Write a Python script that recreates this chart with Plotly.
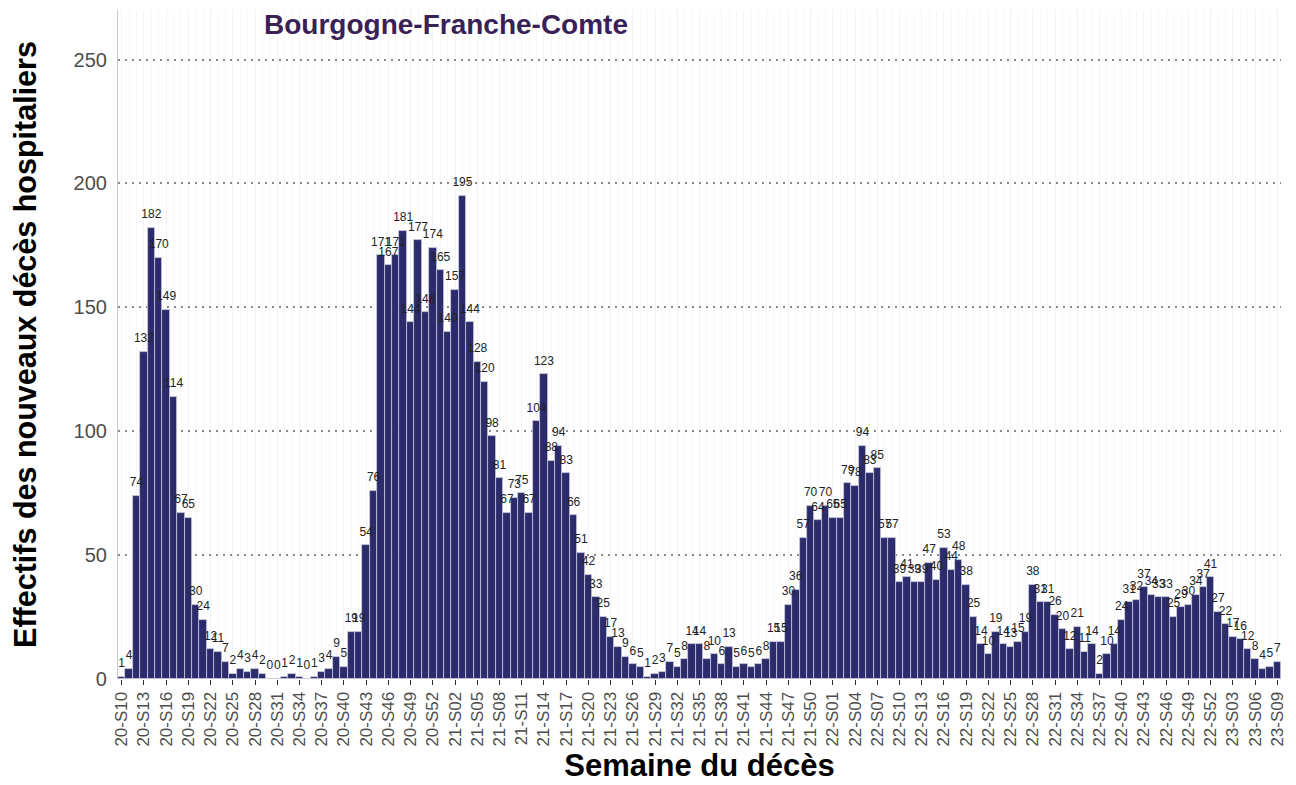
import plotly.graph_objects as go

# Weekly hospital deaths, Bourgogne-Franche-Comte
deaths_2020 = [1, 4, 74, 132, 182, 170, 149, 114, 67, 65,
               30, 24, 12, 11, 7, 2, 4, 3, 4, 2,
               0, 0, 1, 2, 1, 0, 1, 3, 4, 9,
               5, 19, 19, 54, 76, 171, 167, 171, 181, 144,
               177, 148, 174, 165]          # S10..S53
deaths_2021 = [140, 157, 195, 144, 128, 120, 98, 81, 67,
               73, 75, 67, 104, 123, 88, 94, 83, 66, 51,
               42, 33, 25, 17, 13, 9, 6, 5, 1, 2,
               3, 7, 5, 8, 14, 14, 8, 10, 6, 13,
               5, 6, 5, 6, 8, 15, 15, 30, 36, 57,
               70, 64, 70]                  # S01..S52
deaths_2022 = [65, 65, 79, 78, 94, 83, 85, 57, 57,
               39, 41, 39, 39, 47, 40, 53, 44, 48, 38,
               25, 14, 10, 19, 14, 13, 15, 19, 38, 31,
               31, 26, 20, 12, 21, 11, 14, 2, 10, 14,
               24, 31, 32, 37, 34, 33, 33, 25, 29, 30,
               34, 37, 41]                  # S01..S52
deaths_2023 = [27, 22, 17, 16, 12, 8, 4, 5, 7]  # S01..S09

first_week = {"20": 10, "21": 1, "22": 1, "23": 1}
series = [("20", deaths_2020), ("21", deaths_2021), ("22", deaths_2022), ("23", deaths_2023)]

weeks = []
values = []
for yy, vals in series:
    for i, v in enumerate(vals):
        weeks.append(f"{yy}-S{first_week[yy] + i:02d}")
        values.append(v)

idx = list(range(len(weeks)))
tick_idx = idx[::3]
tick_text = [weeks[i] for i in tick_idx]

FONT = "Liberation Sans, Arial, Helvetica, sans-serif"

fig = go.Figure()
fig.add_trace(go.Bar(
    x=idx, y=values,
    marker=dict(color="#2c2c6c", line=dict(color="#c9c9dc", width=0.8)),
    width=1.0,
    hoverinfo="x+y",
))
fig.add_trace(go.Scatter(
    x=idx, y=values,
    mode="markers+text",
    marker=dict(size=9, opacity=0),
    text=[str(v) for v in values],
    textposition="top center",
    textfont=dict(size=12, color="#222222", family=FONT),
    cliponaxis=False,
    hoverinfo="skip",
))

fig.update_layout(
    width=1296, height=785,
    margin=dict(l=110, r=23, t=2, b=114),
    plot_bgcolor="white", paper_bgcolor="white",
    bargap=0,
    showlegend=False,
    font=dict(family=FONT, color="#4d4d4d"),
    annotations=[dict(
        text="<b>Bourgogne-Franche-Comte</b>",
        xref="paper", yref="paper", x=0.282, y=0.978,
        xanchor="center", yanchor="middle", showarrow=False,
        font=dict(size=28, color="#3b1f57", family=FONT),
    )],
)

fig.update_xaxes(
    range=[-0.5, len(weeks) - 0.5],
    automargin=False,
    tickmode="array", tickvals=tick_idx, ticktext=tick_text,
    tickangle=-90, tickfont=dict(size=17, color="#4d4d4d"),
    ticks="outside", ticklen=5, tickcolor="#333333",
    showgrid=True, gridcolor="#f4f4f4", gridwidth=1,
    minor=dict(dtick=1, tick0=0, showgrid=True, gridcolor="#f8f8f8", gridwidth=1),
    showline=False, zeroline=False,
    title=dict(text="<b>Semaine du décès</b>", font=dict(size=31, color="black"), standoff=8),
)
fig.update_yaxes(
    range=[0, 270],
    automargin=False,
    tickvals=[0, 50, 100, 150, 200, 250],
    tickfont=dict(size=20, color="#4d4d4d"),
    showgrid=True, gridcolor="#8a8a8a", griddash="2px,5px", gridwidth=1.6,
    showline=True, linecolor="#c8c8c8", linewidth=1.2,
    zeroline=False, ticks="", ticklabelstandoff=6,
    title=dict(text="<b>Effectifs des nouveaux décès hospitaliers</b>", font=dict(size=30.5, color="black"), standoff=33),
)

fig.write_html("out.html")
